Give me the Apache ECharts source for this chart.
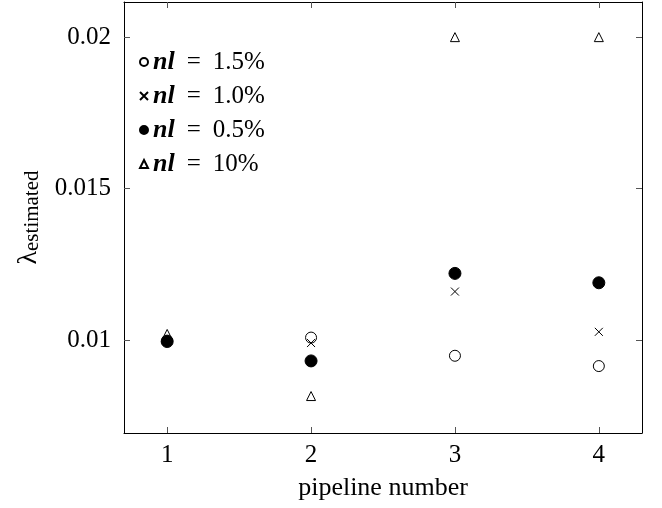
<!DOCTYPE html>
<html>
<head>
<meta charset="utf-8">
<script src="https://cdn.jsdelivr.net/npm/echarts@6/dist/echarts.min.js"></script>
<style>
  html, body { margin: 0; padding: 0; background: #fff; }
  #chart { width: 662px; height: 508px; }
</style>
</head>
<body>
<div id="chart"></div>
<script>
// data
var pipelines = [1, 2, 3, 4];
var nl15 = [0.00998, 0.01008, 0.00948, 0.00914];
var nl10 = [0.00998, 0.0099, 0.0116, 0.01027];
var nl05 = [0.00995, 0.00931, 0.0122, 0.01189];
var nl100 = [0.0102, 0.00815, 0.02, 0.02];
var seriesNames = ["1.5%", "1.0%", "0.5%", "10%"];
var xTicks = [1, 2, 3, 4];
var yTicks = [0.01, 0.015, 0.02];

var FONT = "Liberation Serif";
var chart = echarts.init(document.getElementById("chart"));

function pairs(vals) {
  return pipelines.map(function (p, i) { return [p, vals[i]]; });
}

var crossPath = "path://M0,0L10,10M10,0L0,10";

var baseX = {
  type: "value",
  min: 0.7,
  max: 4.3,
  splitLine: { show: false },
  axisLine: { show: true, onZero: false, lineStyle: { color: "#000", width: 1 } },
  axisTick: { show: true, inside: true, length: 6, customValues: xTicks, lineStyle: { color: "#555" } }
};
var baseY = {
  type: "value",
  min: 0.00693,
  max: 0.02116,
  splitLine: { show: false },
  axisLine: { show: true, onZero: false, lineStyle: { color: "#000", width: 1 } },
  axisTick: { show: true, inside: true, length: 6, customValues: yTicks, lineStyle: { color: "#555" } }
};

var option = {
  animation: false,
  backgroundColor: "#fff",
  grid: { left: 124, top: 2, right: 20, bottom: 75 },
  legend: {
    orient: "vertical",
    left: 134,
    top: 43,
    itemGap: 6,
    itemWidth: 8,
    itemHeight: 8,
    data: seriesNames,
    formatter: function (name) { return "{b|nl}{e|=}" + name; },
    textStyle: {
      fontFamily: FONT,
      fontSize: 25,
      lineHeight: 28,
      color: "#000",
      rich: {
        b: { fontFamily: FONT, fontSize: 26, fontStyle: "italic", fontWeight: "bold", color: "#000" },
        e: { fontFamily: FONT, fontSize: 25, color: "#000", padding: [0, 12, 0, 12] }
      }
    }
  },
  xAxis: [
    Object.assign({}, baseX, {
      position: "bottom",
      name: "pipeline number",
      nameLocation: "middle",
      nameGap: 42,
      nameTextStyle: { fontFamily: FONT, fontSize: 26, color: "#000" },
      axisLabel: { customValues: xTicks, margin: 10, fontFamily: FONT, fontSize: 25, color: "#000" }
    }),
    Object.assign({}, baseX, { position: "top", axisLabel: { show: false } })
  ],
  yAxis: [
    Object.assign({}, baseY, {
      position: "left",
      name: "{l|λ}{s|estimated}",
      nameLocation: "middle",
      nameGap: 81,
      nameRotate: 90,
      nameTextStyle: {
        color: "#000",
        rich: {
          l: { fontFamily: FONT, fontSize: 28, color: "#000", verticalAlign: "bottom", lineHeight: 30 },
          s: { fontFamily: FONT, fontSize: 21, color: "#000", verticalAlign: "bottom", lineHeight: 22 }
        }
      },
      axisLabel: { customValues: yTicks, margin: 13, fontFamily: FONT, fontSize: 25, color: "#000" }
    }),
    Object.assign({}, baseY, { position: "right", axisLabel: { show: false } })
  ],
  series: [
    {
      name: "1.5%",
      type: "scatter",
      symbol: "circle",
      symbolSize: 11,
      itemStyle: { color: "transparent", borderColor: "#000", borderWidth: 1, opacity: 1 },
      data: pairs(nl15)
    },
    {
      name: "1.0%",
      type: "scatter",
      symbol: crossPath,
      symbolSize: 8,
      itemStyle: { color: "transparent", borderColor: "#000", borderWidth: 1, opacity: 1 },
      data: pairs(nl10)
    },
    {
      name: "0.5%",
      type: "scatter",
      symbol: "circle",
      symbolSize: 12,
      itemStyle: { color: "#000", borderColor: "#000", borderWidth: 1, opacity: 1 },
      data: pairs(nl05)
    },
    {
      name: "10%",
      type: "scatter",
      symbol: "triangle",
      symbolSize: 9,
      itemStyle: { color: "transparent", borderColor: "#000", borderWidth: 1, opacity: 1 },
      data: pairs(nl100)
    }
  ]
};

chart.setOption(option);
</script>
</body>
</html>
